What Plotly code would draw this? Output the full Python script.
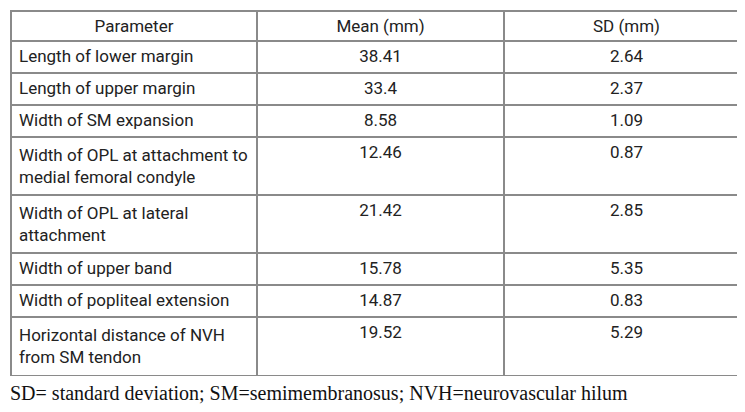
import plotly.graph_objects as go

header = ["Parameter", "Mean (mm)", "SD (mm)"]
parameters = [
    "Length of lower margin",
    "Length of upper margin",
    "Width of SM expansion",
    "Width of OPL at attachment to<br>medial femoral condyle",
    "Width of OPL at lateral<br>attachment",
    "Width of upper band",
    "Width of popliteal extension",
    "Horizontal distance of NVH<br>from SM tendon",
]
means = ["38.41", "33.4", "8.58", "12.46", "21.42", "15.78", "14.87", "19.52"]
sds = ["2.64", "2.37", "1.09", "0.87", "2.85", "5.35", "0.83", "5.29"]
footnote = "SD= standard deviation; SM=semimembranosus; NVH=neurovascular hilum"

W, H = 745, 412
line_col = "#8a8a8a"
txt_col = "#222222"

fig = go.Figure(go.Table(
    domain=dict(x=[3 / W, 742 / W], y=[1 - 378 / H, 1 - 3 / H]),
    columnwidth=[246, 247, 245],
    header=dict(
        values=header,
        align="center",
        height=30,
        line=dict(color=line_col, width=1.5),
        fill=dict(color="white"),
        font=dict(family="Roboto", size=17, color=txt_col),
    ),
    cells=dict(
        values=[parameters, means, sds],
        align=["left", "center", "center"],
        height=32,
        line=dict(color=line_col, width=1.5),
        fill=dict(color="white"),
        font=dict(family="Roboto", size=17, color=txt_col),
    ),
))

fig.add_annotation(
    text=footnote, xref="paper", yref="paper",
    x=0, y=1 - 385 / H, xanchor="left", yanchor="middle",
    showarrow=False,
    font=dict(family="Liberation Serif", size=20, color="#111111"),
)

fig.update_layout(
    width=W, height=H,
    margin=dict(l=0, r=0, t=0, b=0),
    paper_bgcolor="white",
)
fig.write_html("out.html")
